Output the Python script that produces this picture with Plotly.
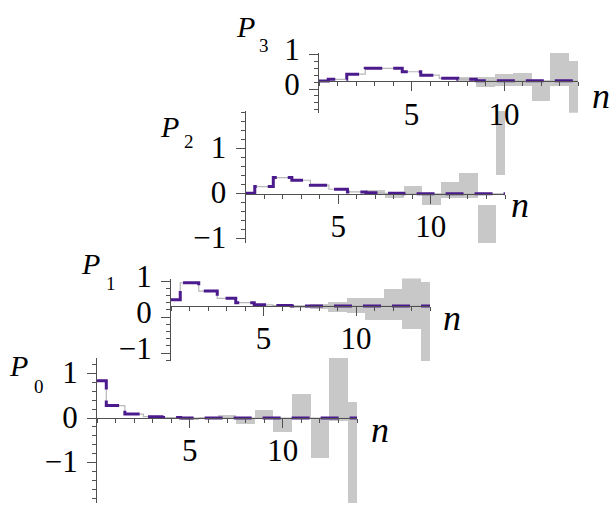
import plotly.graph_objects as go

# ---------------- data ----------------
n = list(range(15))

p0_line = [0.84, 0.28, 0.09, 0.03, 0.01, 0.0, 0.0, 0.0, 0.0, 0.0, 0.0, 0.0, 0.0, 0.0, 0.0]
p0_lo   = [0.84, 0.28, 0.09, 0.03, 0.01, -0.03, -0.03, -0.03, -0.13, -0.01, -0.32, -0.01, -0.90, -0.07, -2.00]
p0_hi   = [0.84, 0.28, 0.09, 0.03, 0.01, 0.00, 0.02, 0.07, -0.01, 0.19, 0.00, 0.55, 0.00, 1.35, 0.37]

p1_line = [0.48, 0.95, 0.72, 0.52, 0.40, 0.34, 0.32, 0.31, 0.31, 0.31, 0.31, 0.31, 0.31, 0.31, 0.31]
p1_lo   = [0.48, 0.95, 0.72, 0.52, 0.40, 0.34, 0.32, 0.29, 0.24, 0.15, 0.12, -0.06, -0.06, -0.31, -1.25]
p1_hi   = [0.48, 0.95, 0.72, 0.52, 0.40, 0.34, 0.32, 0.33, 0.38, 0.44, 0.55, 0.55, 0.78, 1.10, 1.00]

p2_line = [0.01, 0.16, 0.36, 0.30, 0.19, 0.10, 0.04, 0.02, 0.01, 0.0, 0.0, 0.0, 0.0, 0.0, 0.0]
p2_lo   = [0.01, 0.16, 0.36, 0.30, 0.19, 0.10, 0.04, 0.00, -0.09, 0.00, -0.25, -0.09, -0.09, -1.10, 0.41]
p2_hi   = [0.01, 0.16, 0.36, 0.30, 0.19, 0.10, 0.04, 0.08, 0.00, 0.17, 0.00, 0.26, 0.47, -0.24, 1.84]

p3_line = [0.23, 0.28, 0.43, 0.60, 0.60, 0.50, 0.40, 0.31, 0.28, 0.24, 0.24, 0.24, 0.24, 0.24, 0.24]
p3_lo   = [0.23, 0.28, 0.43, 0.60, 0.60, 0.50, 0.40, 0.31, 0.24, 0.07, 0.09, 0.09, -0.34, 0.09, -0.69]
p3_hi   = [0.23, 0.28, 0.43, 0.60, 0.60, 0.50, 0.40, 0.31, 0.34, 0.34, 0.43, 0.47, 0.24, 1.05, 0.81]

panel_names = ["0", "1", "2", "3"]
x_tick_vals = [5, 10]
x_tick_text = ["5", "10"]
y_tick_vals = [[-1, 0, 1], [-1, 0, 1], [-1, 0, 1], [0, 1]]
y_tick_text = [["\u22121", "0", "1"], ["\u22121", "0", "1"], ["\u22121", "0", "1"], ["0", "1"]]

series = [
    (p0_line, p0_lo, p0_hi),
    (p1_line, p1_lo, p1_hi),
    (p2_line, p2_lo, p2_hi),
    (p3_line, p3_lo, p3_hi),
]

# ---------------- layout geometry (pixels) ----------------
W, H = 612, 506
GEOM = [
    dict(xl=97, xr=357, yt=358, yb=503, yr=(-1.91, 1.35), cross=0.0, yshift=-1,
         P=(18, 365), sub=(39, 386), nlab=(380, 430)),
    dict(xl=171, xr=430, yt=278.5, yb=361, yr=(-1.22, 1.07), cross=0.30, yshift=-5,
         P=(90, 263), sub=(111, 283), nlab=(452, 318)),
    dict(xl=245.5, xr=505, yt=111, yb=243.2, yr=(-1.10, 1.84), cross=0.0, yshift=-2,
         P=(169, 126), sub=(189, 142), nlab=(520, 205)),
    dict(xl=319, xr=578, yt=52.8, yb=112.8, yr=(-0.69, 1.05), cross=0.22, yshift=-5,
         P=(245, 26), sub=(264, 45), nlab=(601, 96)),
]

FONT = "Liberation Serif"
GRAY = "#c8c8c8"
LINE = "#4b1a8c"
AX = "#505050"

fig = go.Figure()
layout = dict(
    template="none",
    width=W, height=H, margin=dict(l=0, r=0, t=0, b=0, pad=0),
    paper_bgcolor="white", plot_bgcolor="rgba(0,0,0,0)",
    showlegend=False, font=dict(family=FONT, color="black"),
    bargap=0,
)
annotations = []

for i, ((line, lo, hi), g) in enumerate(zip(series, GEOM)):
    sx = "" if i == 0 else str(i + 1)
    xa, ya = "x" + sx, "y" + sx
    heights = [h - l for l, h in zip(lo, hi)]
    fig.add_trace(go.Bar(x=n, y=heights, base=lo, width=1, xaxis=xa, yaxis=ya,
                         marker=dict(color=GRAY, line=dict(width=0)), hoverinfo="skip"))
    fig.add_trace(go.Scatter(x=n, y=line, mode="lines", xaxis=xa, yaxis=ya,
                             line=dict(shape="hvh", color="#b8b8b8", width=1.2), hoverinfo="skip"))
    fig.add_trace(go.Scatter(x=n, y=line, mode="lines", xaxis=xa, yaxis=ya,
                             line=dict(shape="hvh", color=LINE, width=3, dash="18px,11px"),
                             hoverinfo="skip"))
    ymin, ymax = g["yr"]
    cross_px = g["yb"] - (g["cross"] - ymin) / (ymax - ymin) * (g["yb"] - g["yt"])
    layout["xaxis" + sx] = dict(
        domain=[g["xl"] / W, g["xr"] / W], range=[0, 14], anchor="free",
        position=1 - cross_px / H, showline=True, linecolor=AX, linewidth=1,
        ticks="outside", ticklen=9, tickcolor=AX, tickwidth=1, automargin=False,
        tickmode="array", tickvals=x_tick_vals, ticktext=x_tick_text,
        tickfont=dict(family=FONT, size=31, color="black"), ticklabelstandoff=-4,
        showgrid=False, zeroline=False,
        minor=dict(tickmode="linear", tick0=0, dtick=1, ticks="outside", ticklen=4,
                   tickcolor=AX, showgrid=False),
    )
    layout["yaxis" + sx] = dict(
        domain=[1 - g["yb"] / H, 1 - g["yt"] / H], range=[ymin, ymax], anchor=xa,
        showline=True, linecolor=AX, linewidth=1, automargin=False,
        ticks="outside", ticklen=9, tickcolor=AX, tickwidth=1,
        tickmode="array", tickvals=y_tick_vals[i], ticktext=y_tick_text[i],
        tickfont=dict(family=FONT, size=31, color="black"), ticklabelstandoff=3,
        ticklabelshift=g["yshift"],
        showgrid=False, zeroline=False,
        minor=dict(tickmode="linear", tick0=0, dtick=0.2, ticks="outside", ticklen=4,
                   tickcolor=AX, showgrid=False),
    )
    annotations.append(dict(text="<i>P</i>", x=g["P"][0] / W, y=1 - g["P"][1] / H,
                            xref="paper", yref="paper", showarrow=False,
                            xanchor="center", yanchor="middle",
                            font=dict(family=FONT, size=30, color="black")))
    annotations.append(dict(text=panel_names[i], x=g["sub"][0] / W, y=1 - g["sub"][1] / H,
                            xref="paper", yref="paper", showarrow=False,
                            xanchor="center", yanchor="middle",
                            font=dict(family=FONT, size=19, color="black")))
    annotations.append(dict(text="<i>n</i>", x=g["nlab"][0] / W, y=1 - g["nlab"][1] / H,
                            xref="paper", yref="paper", showarrow=False,
                            xanchor="center", yanchor="middle",
                            font=dict(family=FONT, size=36, color="black")))

layout["annotations"] = annotations
fig.update_layout(**layout)
fig.write_html("out.html", config={"displayModeBar": False},
               post_script="document.body.style.margin='0';document.body.style.overflow='hidden';")
